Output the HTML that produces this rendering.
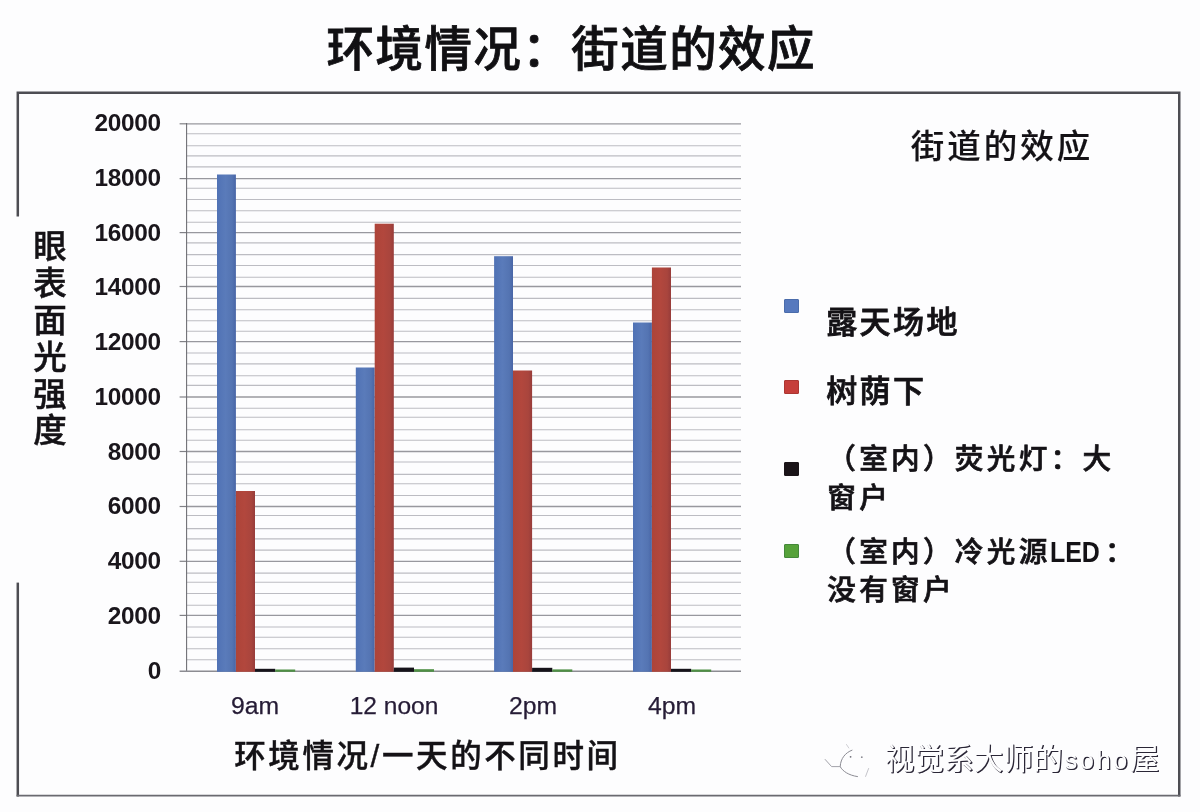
<!DOCTYPE html>
<html lang="zh-CN">
<head>
<meta charset="utf-8">
<title>环境情况：街道的效应</title>
<style>
html,body{margin:0;padding:0;}
body{width:1200px;height:812px;overflow:hidden;background:#fdfdfe;position:relative;
  font-family:"Liberation Sans","Noto Sans CJK SC",sans-serif;color:#141216;}
.abs{position:absolute;white-space:nowrap;}
#title{left:326.5px;top:18px;width:490px;height:64px;line-height:64px;font-size:47.5px;font-weight:500;
  letter-spacing:1.45px;text-align:left;color:#111013;-webkit-text-stroke:0.8px #111013;}
#frame{position:absolute;left:0;top:0;width:1200px;height:812px;}
.yl{position:absolute;left:60px;width:100.9px;height:30px;line-height:30px;text-align:right;
  font-size:24.4px;font-weight:700;color:#1a161c;letter-spacing:-0.3px;}
.xl{position:absolute;top:690.9px;width:120px;height:30px;line-height:30px;text-align:center;
  font-size:23px;color:#261c36;letter-spacing:0;transform-origin:center center;-webkit-text-stroke:0.25px #261c36;}
#ytitle{left:28.4px;top:229.1px;width:36px;height:230px;font-size:33.5px;line-height:36px;font-weight:500;-webkit-text-stroke:0.5px #141216;
  writing-mode:vertical-rl;text-orientation:upright;letter-spacing:3.3px;}
#xtitle{left:234.2px;top:733.3px;height:46px;line-height:46px;font-size:31.5px;font-weight:500;letter-spacing:2.6px;-webkit-text-stroke:0.4px #141216;}
#ltitle{left:910.7px;top:123.5px;height:46px;line-height:46px;font-size:33.5px;font-weight:500;letter-spacing:3px;-webkit-text-stroke:0.15px #141216;}
.lg{position:absolute;left:827.3px;font-size:28.6px;line-height:37px;font-weight:500;white-space:nowrap;letter-spacing:3.3px;-webkit-text-stroke:0.7px #141216;}
.lgb{left:826.2px;font-size:31px;letter-spacing:2.4px;-webkit-text-stroke:0.8px #141216;}
.led{display:inline-block;font-size:29px;transform:scaleX(0.86);transform-origin:left center;margin-right:-2.5px;margin-left:-1px;letter-spacing:0;font-weight:700;-webkit-text-stroke:0;}
.mk{position:absolute;left:784.2px;width:14.5px;height:14px;border-radius:1px;box-sizing:border-box;border:1px solid transparent;}
#wm{left:885px;top:737.8px;height:42px;line-height:42px;font-size:29.2px;font-weight:400;color:#fdfdfe;
  text-shadow:0.7px 0.7px 0 #2a2636, 1.3px 1.3px 0.3px #2f2b3b;letter-spacing:0.5px;}
#wm span{font-size:25px;letter-spacing:2.8px;margin-left:1.5px;}
</style>
</head>
<body>
<svg id="frame" width="1200" height="812" viewBox="0 0 1200 812">
<defs>
<linearGradient id="gb" x1="0" y1="0" x2="1" y2="0">
<stop offset="0" stop-color="#5072b5"/><stop offset="0.45" stop-color="#5a7bba"/><stop offset="0.8" stop-color="#5474b2"/><stop offset="1" stop-color="#4865a6"/>
</linearGradient>
<linearGradient id="gr" x1="0" y1="0" x2="1" y2="0">
<stop offset="0" stop-color="#ad4439"/><stop offset="0.45" stop-color="#b2473d"/><stop offset="0.8" stop-color="#a9453d"/><stop offset="1" stop-color="#973c3a"/>
</linearGradient>
</defs>
<!-- outer frame -->
<g fill="none" stroke="#4d4d53">
<path d="M17.8 216.6 V92.75 H1179.25 V796.5" stroke-width="2.5"/>
<path d="M17.8 582.6 V796.5" stroke-width="2.5"/>
<path d="M16.6 795.7 H1180.4" stroke="#6a6a70" stroke-width="1.8"/>
</g>
<line x1="186.6" y1="123.80" x2="741.0" y2="123.80" stroke="#98989e" stroke-width="1.3"/>
<line x1="179.6" y1="123.80" x2="186.6" y2="123.80" stroke="#808086" stroke-width="1.2"/>
<line x1="186.6" y1="133.80" x2="741.0" y2="133.80" stroke="#bcbcc2" stroke-width="1.1"/>
<line x1="186.6" y1="145.70" x2="741.0" y2="145.70" stroke="#bcbcc2" stroke-width="1.1"/>
<line x1="186.6" y1="155.90" x2="741.0" y2="155.90" stroke="#bcbcc2" stroke-width="1.1"/>
<line x1="186.6" y1="166.90" x2="741.0" y2="166.90" stroke="#bcbcc2" stroke-width="1.1"/>
<line x1="186.6" y1="178.60" x2="741.0" y2="178.60" stroke="#98989e" stroke-width="1.3"/>
<line x1="179.6" y1="178.60" x2="186.6" y2="178.60" stroke="#808086" stroke-width="1.2"/>
<line x1="186.6" y1="188.20" x2="741.0" y2="188.20" stroke="#bcbcc2" stroke-width="1.1"/>
<line x1="186.6" y1="199.50" x2="741.0" y2="199.50" stroke="#bcbcc2" stroke-width="1.1"/>
<line x1="186.6" y1="210.80" x2="741.0" y2="210.80" stroke="#bcbcc2" stroke-width="1.1"/>
<line x1="186.6" y1="222.20" x2="741.0" y2="222.20" stroke="#bcbcc2" stroke-width="1.1"/>
<line x1="186.6" y1="232.60" x2="741.0" y2="232.60" stroke="#98989e" stroke-width="1.3"/>
<line x1="179.6" y1="232.60" x2="186.6" y2="232.60" stroke="#808086" stroke-width="1.2"/>
<line x1="186.6" y1="242.90" x2="741.0" y2="242.90" stroke="#bcbcc2" stroke-width="1.1"/>
<line x1="186.6" y1="254.60" x2="741.0" y2="254.60" stroke="#bcbcc2" stroke-width="1.1"/>
<line x1="186.6" y1="265.50" x2="741.0" y2="265.50" stroke="#bcbcc2" stroke-width="1.1"/>
<line x1="186.6" y1="277.20" x2="741.0" y2="277.20" stroke="#bcbcc2" stroke-width="1.1"/>
<line x1="186.6" y1="286.50" x2="741.0" y2="286.50" stroke="#98989e" stroke-width="1.3"/>
<line x1="179.6" y1="286.50" x2="186.6" y2="286.50" stroke="#808086" stroke-width="1.2"/>
<line x1="186.6" y1="298.40" x2="741.0" y2="298.40" stroke="#bcbcc2" stroke-width="1.1"/>
<line x1="186.6" y1="309.70" x2="741.0" y2="309.70" stroke="#bcbcc2" stroke-width="1.1"/>
<line x1="186.6" y1="320.80" x2="741.0" y2="320.80" stroke="#bcbcc2" stroke-width="1.1"/>
<line x1="186.6" y1="331.30" x2="741.0" y2="331.30" stroke="#bcbcc2" stroke-width="1.1"/>
<line x1="186.6" y1="341.60" x2="741.0" y2="341.60" stroke="#98989e" stroke-width="1.3"/>
<line x1="179.6" y1="341.60" x2="186.6" y2="341.60" stroke="#808086" stroke-width="1.2"/>
<line x1="186.6" y1="353.00" x2="741.0" y2="353.00" stroke="#bcbcc2" stroke-width="1.1"/>
<line x1="186.6" y1="363.90" x2="741.0" y2="363.90" stroke="#bcbcc2" stroke-width="1.1"/>
<line x1="186.6" y1="375.80" x2="741.0" y2="375.80" stroke="#bcbcc2" stroke-width="1.1"/>
<line x1="186.6" y1="385.40" x2="741.0" y2="385.40" stroke="#bcbcc2" stroke-width="1.1"/>
<line x1="186.6" y1="397.00" x2="741.0" y2="397.00" stroke="#98989e" stroke-width="1.3"/>
<line x1="179.6" y1="397.00" x2="186.6" y2="397.00" stroke="#808086" stroke-width="1.2"/>
<line x1="186.6" y1="408.20" x2="741.0" y2="408.20" stroke="#bcbcc2" stroke-width="1.1"/>
<line x1="186.6" y1="417.30" x2="741.0" y2="417.30" stroke="#bcbcc2" stroke-width="1.1"/>
<line x1="186.6" y1="429.70" x2="741.0" y2="429.70" stroke="#bcbcc2" stroke-width="1.1"/>
<line x1="186.6" y1="440.20" x2="741.0" y2="440.20" stroke="#bcbcc2" stroke-width="1.1"/>
<line x1="186.6" y1="451.50" x2="741.0" y2="451.50" stroke="#98989e" stroke-width="1.3"/>
<line x1="179.6" y1="451.50" x2="186.6" y2="451.50" stroke="#808086" stroke-width="1.2"/>
<line x1="186.6" y1="462.00" x2="741.0" y2="462.00" stroke="#bcbcc2" stroke-width="1.1"/>
<line x1="186.6" y1="474.40" x2="741.0" y2="474.40" stroke="#bcbcc2" stroke-width="1.1"/>
<line x1="186.6" y1="483.80" x2="741.0" y2="483.80" stroke="#bcbcc2" stroke-width="1.1"/>
<line x1="186.6" y1="495.50" x2="741.0" y2="495.50" stroke="#bcbcc2" stroke-width="1.1"/>
<line x1="186.6" y1="506.50" x2="741.0" y2="506.50" stroke="#98989e" stroke-width="1.3"/>
<line x1="179.6" y1="506.50" x2="186.6" y2="506.50" stroke="#808086" stroke-width="1.2"/>
<line x1="186.6" y1="515.50" x2="741.0" y2="515.50" stroke="#bcbcc2" stroke-width="1.1"/>
<line x1="186.6" y1="528.60" x2="741.0" y2="528.60" stroke="#bcbcc2" stroke-width="1.1"/>
<line x1="186.6" y1="538.90" x2="741.0" y2="538.90" stroke="#bcbcc2" stroke-width="1.1"/>
<line x1="186.6" y1="550.10" x2="741.0" y2="550.10" stroke="#bcbcc2" stroke-width="1.1"/>
<line x1="186.6" y1="561.30" x2="741.0" y2="561.30" stroke="#98989e" stroke-width="1.3"/>
<line x1="179.6" y1="561.30" x2="186.6" y2="561.30" stroke="#808086" stroke-width="1.2"/>
<line x1="186.6" y1="573.10" x2="741.0" y2="573.10" stroke="#bcbcc2" stroke-width="1.1"/>
<line x1="186.6" y1="582.20" x2="741.0" y2="582.20" stroke="#bcbcc2" stroke-width="1.1"/>
<line x1="186.6" y1="593.50" x2="741.0" y2="593.50" stroke="#bcbcc2" stroke-width="1.1"/>
<line x1="186.6" y1="605.20" x2="741.0" y2="605.20" stroke="#bcbcc2" stroke-width="1.1"/>
<line x1="186.6" y1="615.40" x2="741.0" y2="615.40" stroke="#98989e" stroke-width="1.3"/>
<line x1="179.6" y1="615.40" x2="186.6" y2="615.40" stroke="#808086" stroke-width="1.2"/>
<line x1="186.6" y1="627.00" x2="741.0" y2="627.00" stroke="#bcbcc2" stroke-width="1.1"/>
<line x1="186.6" y1="637.30" x2="741.0" y2="637.30" stroke="#bcbcc2" stroke-width="1.1"/>
<line x1="186.6" y1="648.70" x2="741.0" y2="648.70" stroke="#bcbcc2" stroke-width="1.1"/>
<line x1="186.6" y1="659.80" x2="741.0" y2="659.80" stroke="#bcbcc2" stroke-width="1.1"/>
<line x1="186.6" y1="123.0" x2="186.6" y2="672.0" stroke="#6a6a70" stroke-width="1.05"/>
<line x1="179.6" y1="671.2" x2="741.0" y2="671.2" stroke="#8c8c92" stroke-width="1.5"/>
<rect x="217.00" y="174.5" width="18.90" height="497.30" fill="url(#gb)"/>
<rect x="235.90" y="491.0" width="19.10" height="180.80" fill="url(#gr)"/>
<rect x="255.00" y="668.80" width="20.20" height="3.0" fill="#16131a"/>
<rect x="275.20" y="669.50" width="20.00" height="2.3" fill="#4f8f45"/>
<rect x="355.80" y="367.5" width="18.90" height="304.30" fill="url(#gb)"/>
<rect x="374.70" y="223.7" width="19.10" height="448.10" fill="url(#gr)"/>
<rect x="393.80" y="667.60" width="20.20" height="4.2" fill="#16131a"/>
<rect x="414.00" y="669.20" width="20.00" height="2.6" fill="#4f8f45"/>
<rect x="494.10" y="256.2" width="18.90" height="415.60" fill="url(#gb)"/>
<rect x="513.00" y="370.5" width="19.10" height="301.30" fill="url(#gr)"/>
<rect x="532.10" y="667.80" width="20.20" height="4.0" fill="#16131a"/>
<rect x="552.30" y="669.40" width="20.00" height="2.4" fill="#4f8f45"/>
<rect x="633.00" y="322.5" width="18.90" height="349.30" fill="url(#gb)"/>
<rect x="651.90" y="267.5" width="19.10" height="404.30" fill="url(#gr)"/>
<rect x="671.00" y="668.80" width="20.20" height="3.0" fill="#16131a"/>
<rect x="691.20" y="669.50" width="20.00" height="2.3" fill="#4f8f45"/>
<!-- watermark logo -->
<g fill="none" stroke-linecap="round">
<path d="M852 750.2 C845.5 752.5 840.6 758.5 840.2 766.6 C842.5 771 848.5 775.3 857.5 776.6" stroke="#8b8b93" stroke-width="1"/>
<path d="M825.2 759.5 L831.6 766.6 L840.2 766.6" stroke="#a3a3aa" stroke-width="1"/>
<path d="M868.6 768.5 L865.6 776.4" stroke="#c4c4ca" stroke-width="1"/>
<path d="M846.5 744.5 L848.8 748" stroke="#c9c9cf" stroke-width="0.9"/>
<circle cx="850.6" cy="756.8" r="0.9" fill="#6f6f78" stroke="none"/>
<circle cx="861.8" cy="757.2" r="0.9" fill="#8a8a92" stroke="none"/>
</g>
</svg>
<div id="title" class="abs">环境情况：街道的效应</div>
<div id="ytitle" class="abs">眼表面光强度</div>
<div class="yl" style="top:655.5px">0</div>
<div class="yl" style="top:600.8px">2000</div>
<div class="yl" style="top:546.0px">4000</div>
<div class="yl" style="top:491.2px">6000</div>
<div class="yl" style="top:436.5px">8000</div>
<div class="yl" style="top:381.8px">10000</div>
<div class="yl" style="top:327.0px">12000</div>
<div class="yl" style="top:272.2px">14000</div>
<div class="yl" style="top:217.5px">16000</div>
<div class="yl" style="top:162.7px">18000</div>
<div class="yl" style="top:108.0px">20000</div>
<div class="xl" style="left:195.0px;transform:scaleX(1.075)">9am</div>
<div class="xl" style="left:334.4px;transform:scaleX(1.065)">12 noon</div>
<div class="xl" style="left:472.7px;transform:scaleX(1.075)">2pm</div>
<div class="xl" style="left:611.6px;transform:scaleX(1.075)">4pm</div>
<div id="xtitle" class="abs">环境情况/一天的不同时间</div>
<div id="ltitle" class="abs">街道的效应</div>
<div class="mk" style="top:298.9px;height:14.3px;background:#5679be;border-color:#4a6cab"></div>
<div class="lg lgb" style="top:304.2px">露天场地</div>
<div class="mk" style="top:380.3px;height:13.3px;background:#c63e3a;border-color:#ab3632"></div>
<div class="lg lgb" style="top:373px">树荫下</div>
<div class="mk" style="top:462px;left:783.9px;width:15px;background:#1a1418;border-color:#1a1418"></div>
<div class="lg" style="top:440.3px;line-height:38.7px">（室内）荧光灯：大<br>窗户</div>
<div class="mk" style="top:543.8px;height:14px;background:#56a23a;border-color:#44883a"></div>
<div class="lg" style="top:532.5px;line-height:38.7px">（室内）冷光源<span class="led">LED</span>：<br>没有窗户</div>
<div id="wm" class="abs">视觉系大师的<span>soho</span>屋</div>
</body>
</html>
